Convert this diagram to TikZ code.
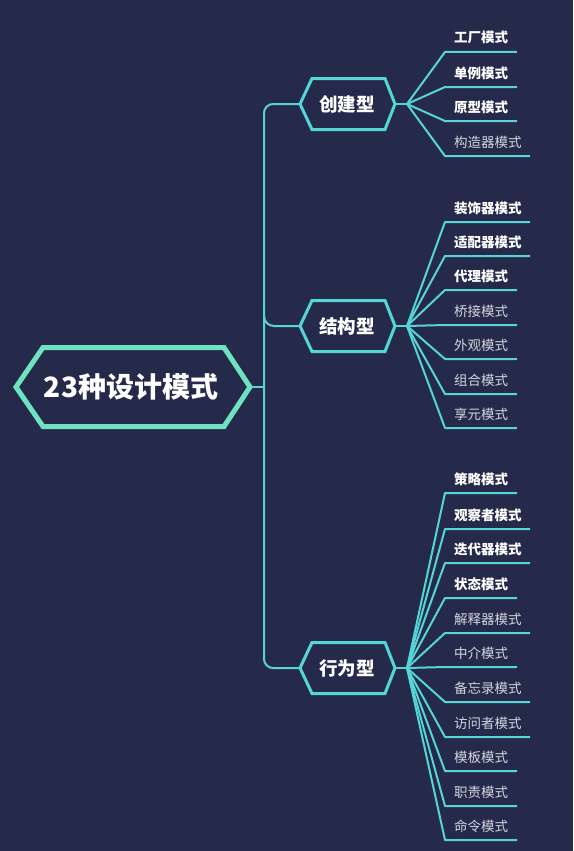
\documentclass[tikz,border=0pt]{standalone}
\usepackage{fontspec}
\setmainfont{Noto Sans CJK SC}
\definecolor{bg}{HTML}{252A4A}
\definecolor{mint}{HTML}{6EE3BF}
\definecolor{cyanl}{HTML}{55D6D6}
\definecolor{leafgray}{HTML}{D3D6E0}
\tikzset{
  rootbox/.style={draw=mint, line width=5pt, fill=bg, line join=miter},
  catbox/.style={draw=cyanl, line width=3pt, fill=bg, line join=miter},
  conn/.style={draw=cyanl, line width=2pt},
  leafline/.style={draw=cyanl, line width=2pt},
  roottext/.style={text=white, font=\bfseries\fontsize{28}{30}\selectfont, inner sep=0pt},
  cattext/.style={text=white, font=\bfseries\fontsize{18.5}{20}\selectfont, inner sep=0pt},
  leafb/.style={text=white, font=\bfseries\fontsize{13.5}{15}\selectfont, inner sep=0pt, anchor=base west},
  leafr/.style={text=leafgray, font=\fontsize{13.5}{15}\selectfont, inner sep=0pt, anchor=base west},
}
\begin{document}
\begin{tikzpicture}[x=1pt,y=-1pt]
\useasboundingbox (0,0) rectangle (573,851);
\fill[bg] (0,0) rectangle (573,851);

% root
\path[rootbox] (16,387) -- (43,347.5) -- (224,347.5) -- (250,387) -- (224,426.5) -- (43,426.5) -- cycle;
\node[roottext] (root) at (131,387) {23种设计模式};
\coordinate (rootE) at (252,387);

% categories
\foreach \n/\c/\t in {c1/104/创建型, c2/326/结构型, c3/668/行为型}{
  \path[catbox] (300,\c) -- (312,\c-25.5) -- (385,\c-25.5) -- (395,\c) -- (385,\c+25.5) -- (312,\c+25.5) -- cycle;
  \node[cattext] (\n) at (347,\c) {\t};
  \coordinate (\n W) at (300,\c);
  \coordinate (\n E) at (395,\c);
  \coordinate (\n F) at (407,\c);
}

% spine
\coordinate (spT) at (264,104);
\coordinate (spB) at (264,668);
\coordinate (spM) at (264,387);
\draw[conn, rounded corners=9pt] (c1W) -- (spT) -- (spB) -- (c3W);
\draw[conn] (264,316) to[out=-90,in=180] (274,326) -- (c2W);
\draw[conn] (rootE) -- (spM);
\draw[conn] (c1E) -- (c1F);
\draw[conn] (c2E) -- (c2F);
\draw[conn] (c3E) -- (c3F);

% leaves
\foreach \cat/\i/\y/\e/\s/\t in {
  c1/1/52/517/leafb/工厂模式,
  c1/2/87/517/leafb/单例模式,
  c1/3/121/517/leafb/原型模式,
  c1/4/156/530/leafr/构造器模式,
  c2/1/222/530/leafb/装饰器模式,
  c2/2/256/530/leafb/适配器模式,
  c2/3/290/517/leafb/代理模式,
  c2/4/325/517/leafr/桥接模式,
  c2/5/359/517/leafr/外观模式,
  c2/6/394/517/leafr/组合模式,
  c2/7/428/517/leafr/享元模式,
  c3/1/493/517/leafb/策略模式,
  c3/2/529/530/leafb/观察者模式,
  c3/3/563/530/leafb/迭代器模式,
  c3/4/598/517/leafb/状态模式,
  c3/5/633/530/leafr/解释器模式,
  c3/6/667/517/leafr/中介模式,
  c3/7/702/530/leafr/备忘录模式,
  c3/8/737/530/leafr/访问者模式,
  c3/9/771/517/leafr/模板模式,
  c3/10/806/517/leafr/职责模式,
  c3/11/840/517/leafr/命令模式}{
  \coordinate (\cat L\i a) at (445,\y);
  \coordinate (\cat L\i b) at (\e,\y);
  \node[\s] (\cat T\i) at (454,\y-9) {\t};
  \draw[leafline, line join=round] (\cat F) -- (\cat L\i a) -- (\cat L\i b);
}
\end{tikzpicture}
\end{document}
